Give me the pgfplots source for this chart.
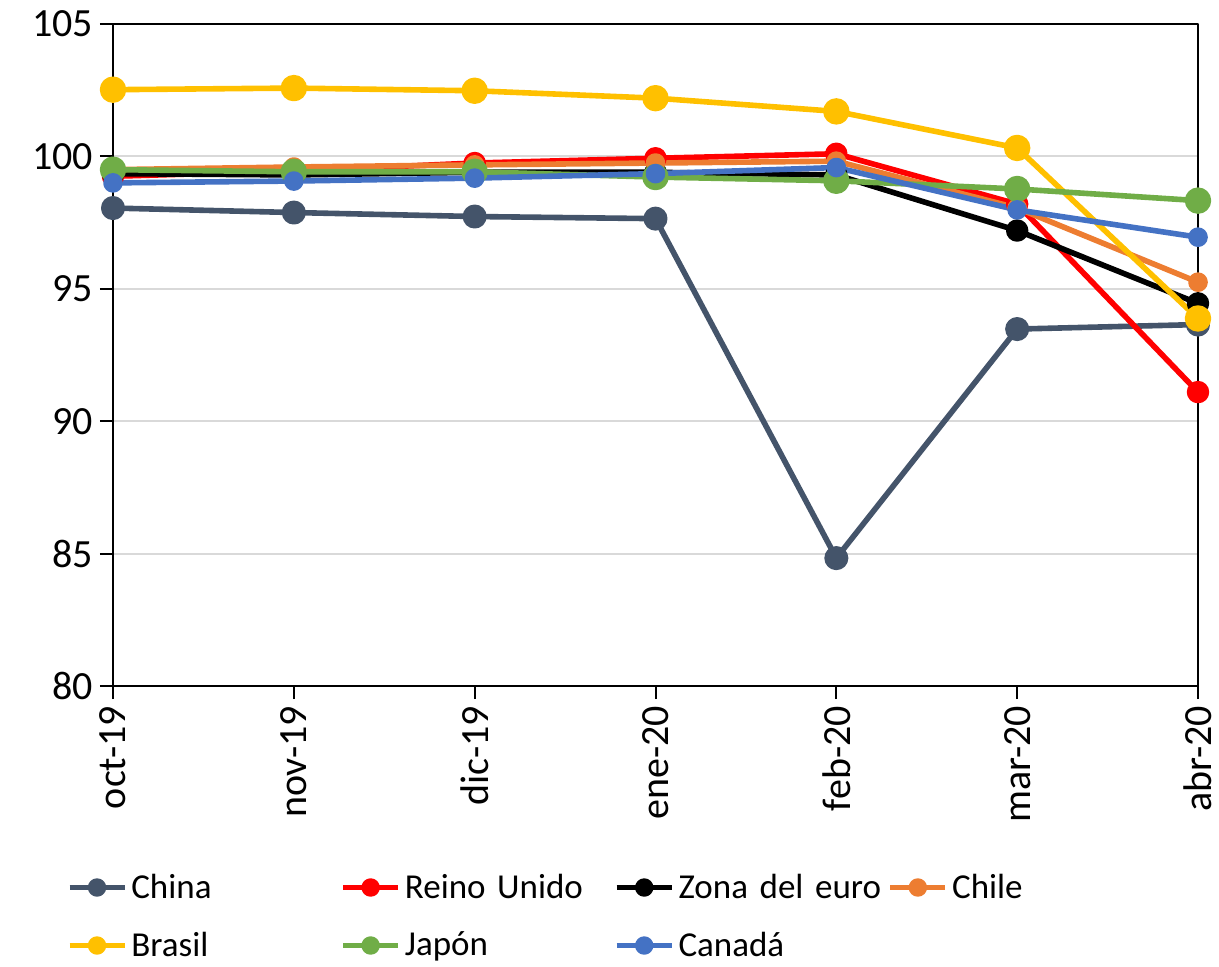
\documentclass[border=0pt]{standalone}
\usepackage{pgfplots}
\pgfplotsset{compat=1.18}
\usepackage{fontspec}
\setmainfont{Carlito}

\definecolor{cChina}{HTML}{44546A}
\definecolor{cRU}{HTML}{FF0000}
\definecolor{cZona}{HTML}{000000}
\definecolor{cChile}{HTML}{ED7D31}
\definecolor{cBrasil}{HTML}{FFC000}
\definecolor{cJapon}{HTML}{70AD47}
\definecolor{cCanada}{HTML}{4472C4}
\definecolor{gridgray}{HTML}{D9D9D9}

\begin{document}
\begin{tikzpicture}
\begin{axis}[
    scale only axis,
    anchor=south west,
    at={(0pt,0pt)},
    width=542.5pt, height=331pt,
    xmin=0, xmax=6, ymin=80, ymax=105,
    xtick={0,...,6},
    xticklabels={oct-19,nov-19,dic-19,ene-20,feb-20,mar-20,abr-20},
    ytick={80,85,...,105},
    ymajorgrids,
    grid style={gridgray, line width=1pt},
    axis line style={black, line width=1pt},
    tick style={black, line width=1pt},
    tick align=outside,
    major tick length=6.5pt,
    xtick pos=left, ytick pos=left,
    /pgf/number format/assume math mode=true,
    ticklabel style={font=\fontsize{20}{24}\selectfont},
    xticklabel style={rotate=90, anchor=east},
    line join=round,
    every axis plot/.append style={line width=2.8pt, mark=*},
    legend columns=4,
    legend style={draw=none, fill=none, inner sep=0pt,
        at={(axis description cs:-0.043,-0.2796)}, anchor=north west,
        font=\fontsize{17.5}{20}\selectfont,
        row sep=13pt,
        nodes={inner sep=0pt, text width=104.5pt, minimum height=16pt, anchor=west},
        /tikz/every odd column/.append style={column sep=2pt}},
    legend cell align=left,
    legend image code/.code={
        \draw[mark repeat=2, mark phase=2, mark size=3.2pt, #1] plot coordinates {(0pt,0pt) (13.75pt,0pt) (27.5pt,0pt)};
    },
]
\addplot[cChina, mark options={fill=cChina}, mark size=4.6pt] coordinates {
(0,98.05) (1,97.88) (2,97.73) (3,97.65) (4,84.83) (5,93.48) (6,93.65)};
\addlegendentry{China}
\addplot[cRU, mark options={fill=cRU}, mark size=4.2pt] coordinates {
(0,99.25) (1,99.45) (2,99.75) (3,99.93) (4,100.1) (5,98.2) (6,91.1)};
\addlegendentry{Reino Unido}
\addplot[cZona, mark options={fill=cZona}, mark size=4.2pt] coordinates {
(0,99.35) (1,99.3) (2,99.4) (3,99.4) (4,99.3) (5,97.2) (6,94.45)};
\addlegendentry{Zona del euro}
\addplot[cChile, mark options={fill=cChile}, mark size=3.5pt] coordinates {
(0,99.5) (1,99.6) (2,99.68) (3,99.75) (4,99.82) (5,98.05) (6,95.25)};
\addlegendentry{Chile}
\addplot[cBrasil, mark options={fill=cBrasil}, mark size=5.2pt] coordinates {
(0,102.52) (1,102.58) (2,102.48) (3,102.2) (4,101.7) (5,100.32) (6,93.88)};
\addlegendentry{Brasil}
\addplot[cJapon, mark options={fill=cJapon}, mark size=5.2pt] coordinates {
(0,99.5) (1,99.42) (2,99.42) (3,99.22) (4,99.08) (5,98.77) (6,98.33)};
\addlegendentry{Japón}
\addplot[cCanada, mark options={fill=cCanada}, mark size=3.5pt] coordinates {
(0,99.0) (1,99.07) (2,99.18) (3,99.35) (4,99.58) (5,97.98) (6,96.95)};
\addlegendentry{Canadá}
\end{axis}
\pgfresetboundingbox
\path (-56.5pt,-140pt) rectangle (553pt,343pt);
\end{tikzpicture}
\end{document}
